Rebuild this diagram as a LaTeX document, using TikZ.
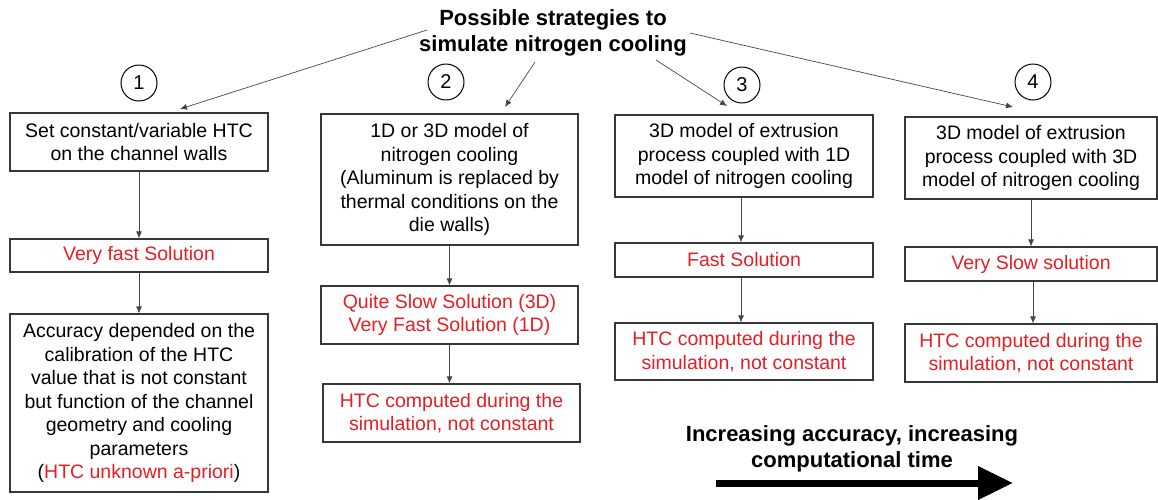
\documentclass[tikz,border=0pt]{standalone}
\usepackage{fontspec}
\setmainfont{Liberation Sans}
\usetikzlibrary{arrows.meta}
\definecolor{txtred}{RGB}{230,30,36}
\definecolor{linegray}{RGB}{55,55,55}
\definecolor{conngray}{RGB}{70,70,70}
\begin{document}
\begin{tikzpicture}[x=1pt,y=-1pt,
  box/.style={draw=linegray, line width=1.2pt, inner sep=0pt, align=center,
    font=\fontsize{19.5}{23.5}\selectfont},
  redbox/.style={box, text=txtred},
  num/.style={draw=black, line width=1pt, circle, minimum size=36pt, inner sep=0pt,
    font=\fontsize{20}{23}\selectfont},
  conn/.style={draw=conngray, line width=0.7pt, -{Latex[length=7pt,width=6pt]}},
  bigtitle/.style={align=center, font=\fontsize{22}{26}\selectfont\bfseries},
  bigarrow/.style={line width=7pt, -{Triangle[length=35pt,width=32pt]}}]
\useasboundingbox (0,0) rectangle (1158,499);

% title
\node[bigtitle] (title) at (553,33) {Possible strategies to\\simulate nitrogen cooling};

% numbers
\node[num] (n1) at (139,83) {1};
\node[num] (n2) at (446,82) {2};
\node[num] (n3) at (742,85) {3};
\node[num] (n4) at (1033,82) {4};

% column 1
\node[box, minimum width=258pt, minimum height=58pt] (b1) at (139,142)
  {Set constant/variable HTC\\on the channel walls};
\node[redbox, minimum width=258pt, minimum height=33pt] (b1b) at (139,255.5)
  {Very fast Solution};
\node[box, minimum width=258pt, minimum height=178pt] (b1c) at (139,403)
  {Accuracy depended on the\\calibration of the HTC\\value that is not constant\\but function of the channel\\geometry and cooling\\parameters\\(\textcolor{txtred}{HTC unknown a-priori})};

% column 2
\node[box, minimum width=257pt, minimum height=131pt] (b2) at (449.5,179.5)
  {1D or 3D model of\\nitrogen cooling\\(Aluminum is replaced by\\thermal conditions on the\\die walls)};
\node[redbox, minimum width=257pt, minimum height=58pt] (b2b) at (449.5,315)
  {Quite Slow Solution (3D)\\Very Fast Solution (1D)};
\node[redbox, minimum width=257pt, minimum height=58pt] (b2c) at (451.5,413)
  {HTC computed during the\\simulation, not constant};

% column 3
\node[box, minimum width=258pt, minimum height=82pt] (b3) at (744,156)
  {3D model of extrusion\\process coupled with 1D\\model of nitrogen cooling};
\node[redbox, minimum width=258pt, minimum height=34pt] (b3b) at (744,260)
  {Fast Solution};
\node[redbox, minimum width=258pt, minimum height=57pt] (b3c) at (744,351.5)
  {HTC computed during the\\simulation, not constant};

% column 4
\node[box, minimum width=252pt, minimum height=82pt] (b4) at (1031,158)
  {3D model of extrusion\\process coupled with 3D\\model of nitrogen cooling};
\node[redbox, minimum width=252pt, minimum height=34pt] (b4b) at (1031,264)
  {Very Slow solution};
\node[redbox, minimum width=252pt, minimum height=58pt] (b4c) at (1031,353)
  {HTC computed during the\\simulation, not constant};

% arrows from title
\coordinate (t1s) at (427,30);  \coordinate (t1e) at (180,109);
\coordinate (t2s) at (535,62);  \coordinate (t2e) at (505,107);
\coordinate (t3s) at (656,60);  \coordinate (t3e) at (727,106);
\coordinate (t4s) at (690,33);  \coordinate (t4e) at (1013,107);
\draw[conn] (t1s) -- (t1e);
\draw[conn] (t2s) -- (t2e);
\draw[conn] (t3s) -- (t3e);
\draw[conn] (t4s) -- (t4e);

% vertical connectors
\draw[conn] (b1.south) -- (b1b.north);
\draw[conn] (b1b.south) -- (b1c.north);
\draw[conn] (b2.south) -- (b2b.north);
\draw[conn] (b2b.south) -- (b2b.south |- b2c.north);
\draw[conn] ([xshift=-3pt]b3.south) -- ([xshift=-3pt]b3b.north);
\draw[conn] ([xshift=-3pt]b3b.south) -- ([xshift=-3pt]b3c.north);
\draw[conn] (b4.south) -- (b4b.north);
\draw[conn] ([xshift=2pt]b4b.south) -- ([xshift=2pt]b4c.north);

% bottom label and big arrow
\node[bigtitle] (acc) at (852,449) {Increasing accuracy, increasing\\computational time};
\coordinate (ar1) at (716,483);
\coordinate (ar2) at (1013,483);
\draw[bigarrow] (ar1) -- (ar2);
\end{tikzpicture}
\end{document}
